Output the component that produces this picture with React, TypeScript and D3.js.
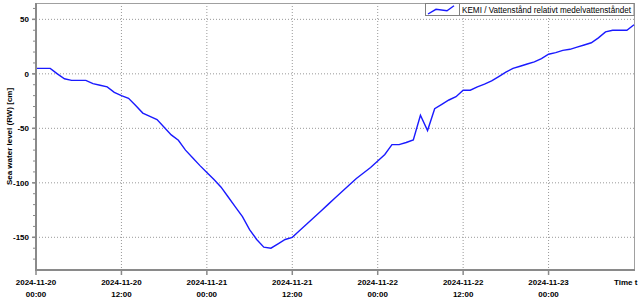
import React from "react";
import * as d3 from "d3";

const hours: number[] = [0,1,2,3,4,5,6,7,8,9,10,11,12,13,14,15,16,17,18,19,20,21,22,23,24,25,26,27,28,29,30,31,32,33,34,35,36,37,38,39,40,41,42,43,44,45,46,47,48,49,50,51,52,53,54,55,56,57,58,59,60,61,62,63,64,65,66,67,68,69,70,71,72,73,74,75,76,77,78,79,80,81,82,83,84];
const levels: number[] = [5,5,5,0,-4.5,-6,-6,-6,-9,-10.5,-12,-17,-20,-22.5,-29,-36,-39,-42,-49,-56,-61,-70,-77,-84,-90.5,-97,-104,-113,-122,-131,-143,-152,-159,-160,-156,-152,-150,-144,-138,-132,-126,-120,-114,-108,-102,-96,-91,-86,-80,-74,-65,-65,-63,-60.6,-38,-52,-32,-28,-24,-21,-15,-15,-12,-9.5,-6.5,-2.5,1.5,5,7,9,11,14,18,19.5,21.5,22.5,24.5,26.5,28.5,33,38.5,40,40,40,45];
const xTickHours: number[] = [0, 12, 24, 36, 48, 60, 72];
const xTickDates: string[] = ["2024-11-20","2024-11-20","2024-11-21","2024-11-21","2024-11-22","2024-11-22","2024-11-23"];
const xTickTimes: string[] = ["00:00","12:00","00:00","12:00","00:00","12:00","00:00"];
const yTicks: number[] = [50, 0, -50, -100, -150];
const seriesName = "KEMI / Vattenstånd relativt medelvattenståndet";
const yLabel = "Sea water level (RW) [cm]";
const xLabel = "Time t";

export default function App() {
  const W = 638, H = 303;
  const left = 36, right = 634, top = 3, bottom = 270;
  const x = d3.scaleLinear().domain([0, 84]).range([left, right]);
  const y = d3.scaleLinear().domain([65, -180]).range([top, bottom]);
  const line = d3.line<number>().x((_, i) => x(hours[i])).y((d) => y(d));
  const minor = d3.range(-170, 61, 10);
  const font = "'Liberation Sans', Arial, sans-serif";
  return (
    <svg width={W} height={H} style={{ position: "absolute", left: 0, top: 0, background: "#fff" }}>
      <rect x={0} y={0} width={W} height={H} fill="#fff" />
      {/* grid */}
      {xTickHours.slice(1).map((h) => (
        <line key={"gx" + h} x1={x(h)} x2={x(h)} y1={top} y2={bottom} stroke="#999" strokeWidth={1} strokeDasharray="1,2" />
      ))}
      {yTicks.map((v) => (
        <line key={"gy" + v} x1={left} x2={right} y1={y(v)} y2={y(v)} stroke="#999" strokeWidth={1} strokeDasharray="1,2" />
      ))}
      {/* border */}
      <line x1={left} x2={right} y1={top + 0.5} y2={top + 0.5} stroke="#a0a0a0" />
      <line x1={right + 0.5} x2={right + 0.5} y1={top} y2={bottom} stroke="#a0a0a0" />
      {/* series */}
      <path d={line(levels) || ""} fill="none" stroke="#1a1aff" strokeWidth={1.4} />
      {/* axes */}
      <line x1={left} x2={left} y1={top} y2={bottom + 1} stroke="#8a8a8a" strokeWidth={2} />
      <line x1={left - 1} x2={right + 1} y1={bottom} y2={bottom} stroke="#8a8a8a" strokeWidth={2} />
      {minor.map((v) => (
        <line key={"my" + v} x1={left - 3} x2={left} y1={y(v)} y2={y(v)} stroke="#8a8a8a" strokeWidth={1} />
      ))}
      {yTicks.map((v) => (
        <line key={"ty" + v} x1={left - 4} x2={left} y1={y(v)} y2={y(v)} stroke="#8a8a8a" strokeWidth={1.5} />
      ))}
      {xTickHours.map((h) => (
        <line key={"tx" + h} x1={x(h)} x2={x(h)} y1={bottom} y2={bottom + 5} stroke="#8a8a8a" strokeWidth={1.5} />
      ))}
      {/* labels */}
      {yTicks.map((v) => (
        <text key={"ly" + v} x={29} y={y(v) + 3} textAnchor="end" fontFamily={font} fontSize={8} fontWeight="bold" fill="#000">{v}</text>
      ))}
      {xTickHours.map((h, i) => (
        <g key={"lx" + h}>
          <text x={x(h)} y={285} textAnchor="middle" fontFamily={font} fontSize={8} fontWeight="bold" fill="#000">{xTickDates[i]}</text>
          <text x={x(h)} y={297} textAnchor="middle" fontFamily={font} fontSize={8} fontWeight="bold" fill="#000">{xTickTimes[i]}</text>
        </g>
      ))}
      <text x={614} y={285} fontFamily={font} fontSize={8} fontWeight="bold" fill="#000">{xLabel}</text>
      <text transform={`translate(12,${(top + bottom) / 2}) rotate(-90)`} textAnchor="middle" fontFamily={font} fontSize={8} fontWeight="bold" fill="#000">{yLabel}</text>
      {/* legend */}
      <rect x={425.5} y={3.5} width={208.5} height={12} fill="#fff" stroke="#808080" strokeWidth={1} />
      <line x1={459.5} x2={459.5} y1={3.5} y2={15.5} stroke="#808080" />
      <path d="M428,14 L436,9.3 L447,10.7 L454,5.7" fill="none" stroke="#1a1aff" strokeWidth={1.4} />
      <text x={462} y={12.5} fontFamily={font} fontSize={8.5} textLength={169} lengthAdjust="spacingAndGlyphs" fill="#000">{seriesName}</text>
    </svg>
  );
}
